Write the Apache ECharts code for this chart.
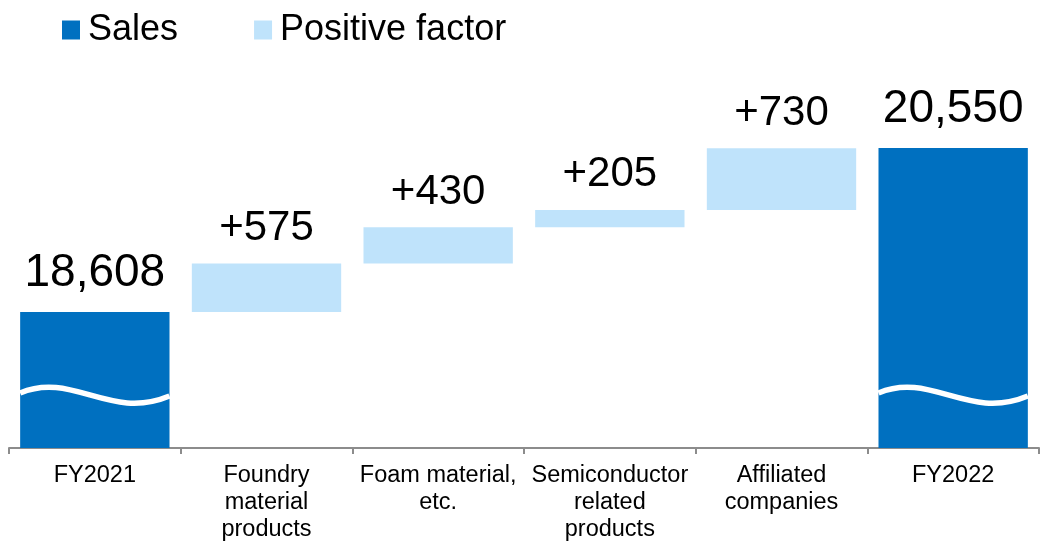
<!DOCTYPE html>
<html>
<head>
<meta charset="utf-8">
<script src="https://cdn.jsdelivr.net/npm/echarts@6/dist/echarts.min.js"></script>
<style>
  html, body { margin: 0; padding: 0; background: #fff; }
  #chart { width: 1045px; height: 548px; }
</style>
</head>
<body>
<div id="chart"></div>
<script>
// Sales bridge FY2021 -> FY2022
const categories = [
  'FY2021',
  'Foundry\nmaterial\nproducts',
  'Foam material,\netc.',
  'Semiconductor\nrelated\nproducts',
  'Affiliated\ncompanies',
  'FY2022'
];
const salesValues = [18608, '-', '-', '-', '-', 20550];
const factorValues = ['-', 575, 430, 205, 730, '-'];

// Invisible base under each step so the factor bars float at the running total
const baseValues = [];
let running = 0;
categories.forEach((c, i) => {
  if (salesValues[i] !== '-') {
    baseValues.push(0);
    running = salesValues[i];
  } else {
    baseValues.push(running);
    running += factorValues[i];
  }
});

const FONT = '"Liberation Sans", Arial, Helvetica, sans-serif';
const SALES_COLOR = '#0070C0';
const FACTOR_COLOR = '#BFE3FB';
const Y_MIN = 17000;
const Y_MAX = 21000;
const BAR_RATIO = 0.87;
const BAR_WIDTH = (BAR_RATIO * 100) + '%';

// Wavy white stroke across the total bars showing the truncated axis
function renderBreak(params, api) {
  const idx = api.value(0);
  const base = api.coord([idx, Y_MIN]);
  const bw = api.size([1, 0])[0] * BAR_RATIO;
  const x0 = base[0] - bw / 2;
  const y0 = base[1] - 55;
  return {
    type: 'bezierCurve',
    shape: {
      x1: x0, y1: y0,
      cpx1: x0 + bw * 0.35, cpy1: y0 - 22,
      cpx2: x0 + bw * 0.6, cpy2: y0 + 28,
      x2: x0 + bw, y2: y0 + 3
    },
    style: { stroke: '#ffffff', lineWidth: 5.5, fill: null },
    z2: 10
  };
}

const breakData = [];
salesValues.forEach((v, i) => { if (v !== '-') breakData.push([i, v]); });

const chart = echarts.init(document.getElementById('chart'), null, { renderer: 'canvas' });
chart.setOption({
  animation: false,
  textStyle: { fontFamily: FONT },
  legend: {
    left: 62,
    top: 12,
    padding: 0,
    itemWidth: 18,
    itemHeight: 19,
    itemGap: 76,
    icon: 'rect',
    data: ['Sales', 'Positive factor'],
    textStyle: { fontSize: 36, color: '#000', fontFamily: FONT, padding: [0, 0, 0, 3] }
  },
  grid: { left: 9, right: 6, top: 110, bottom: 100 },
  xAxis: {
    type: 'category',
    data: categories,
    axisLine: { lineStyle: { color: '#8c8c8c', width: 2 } },
    axisTick: { show: true, length: 6, lineStyle: { color: '#8c8c8c', width: 2 } },
    axisLabel: {
      interval: 0,
      color: '#000',
      fontSize: 23.5,
      lineHeight: 27,
      margin: 14,
      fontFamily: FONT
    }
  },
  yAxis: {
    type: 'value',
    min: Y_MIN,
    max: Y_MAX,
    show: false,
    splitLine: { show: false }
  },
  series: [
    {
      name: 'base',
      type: 'bar',
      stack: 'bridge',
      barWidth: BAR_WIDTH,
      itemStyle: { color: 'transparent' },
      emphasis: { disabled: true },
      data: baseValues
    },
    {
      name: 'Sales',
      type: 'bar',
      stack: 'bridge',
      barWidth: BAR_WIDTH,
      itemStyle: { color: SALES_COLOR },
      label: {
        show: true,
        position: 'top',
        distance: 16,
        color: '#000',
        fontSize: 46,
        fontFamily: FONT,
        formatter: p => Number(p.value).toLocaleString('en-US')
      },
      data: salesValues
    },
    {
      name: 'Positive factor',
      type: 'bar',
      stack: 'bridge',
      barWidth: BAR_WIDTH,
      itemStyle: { color: FACTOR_COLOR },
      label: {
        show: true,
        position: 'top',
        distance: 14,
        color: '#000',
        fontSize: 42,
        fontFamily: FONT,
        formatter: p => '+' + p.value
      },
      data: factorValues
    },
    {
      name: 'break',
      type: 'custom',
      renderItem: renderBreak,
      data: breakData,
      z: 10,
      silent: true
    }
  ]
});
</script>
</body>
</html>
